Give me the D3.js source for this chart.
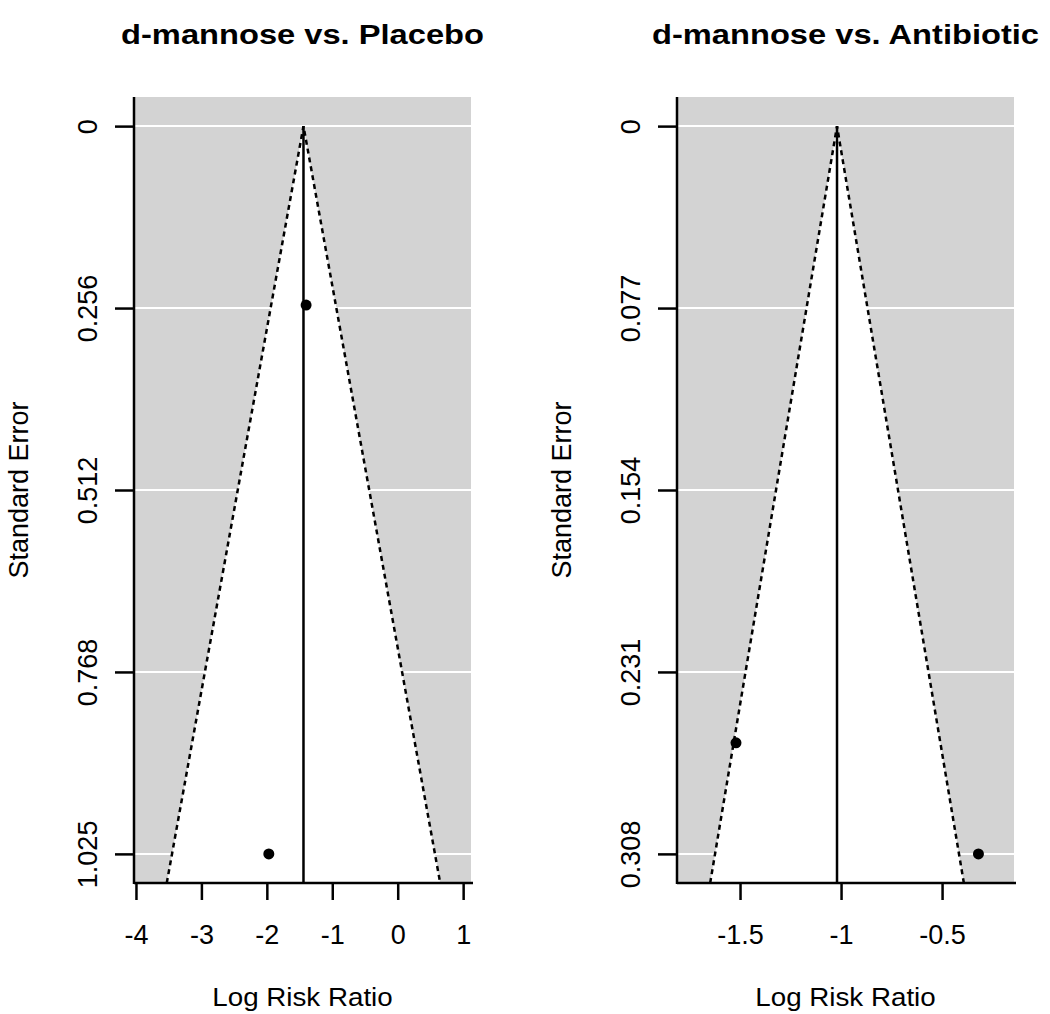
<!DOCTYPE html>
<html>
<head>
<meta charset="utf-8">
<script src="https://cdn.jsdelivr.net/npm/d3@7"></script>
<style>
  body { margin: 0; background: white; }
  text { font-family: "Liberation Sans", Arial, sans-serif; fill: black; }
</style>
</head>
<body>
<div id="plot"></div>
<script>
// funnel plot data
const titles = ["d-mannose vs. Placebo", "d-mannose vs. Antibiotic"];

// d-mannose vs. Placebo
const placebo_lrr = [-1.40, -1.97];
const placebo_se = [0.252, 1.025];
const placebo_pooled = -1.44;
const placebo_yticks = [0, 0.25625, 0.5125, 0.76875, 1.025];
const placebo_ylabels = ["0", "0.256", "0.512", "0.768", "1.025"];
const placebo_xticks = [-4, -3, -2, -1, 0, 1];
const placebo_xlim = [-4.03, 1.12];

// d-mannose vs. Antibiotic
const antibiotic_lrr = [-1.52, -0.32];
const antibiotic_se = [0.261, 0.308];
const antibiotic_pooled = -1.02;
const antibiotic_yticks = [0, 0.077, 0.154, 0.231, 0.308];
const antibiotic_ylabels = ["0", "0.077", "0.154", "0.231", "0.308"];
const antibiotic_xticks = [-1.5, -1, -0.5];
const antibiotic_xlim = [-1.812, -0.144];

const width = 1050;
const height = 1014;

const svg = d3.select("div#plot")
    .append("svg")
    .attr("width", width)
    .attr("height", height);

svg.append("rect").attr("width", width).attr("height", height).attr("fill", "white");

const panels = [
  {title: titles[0], lrr: placebo_lrr, se: placebo_se, pooled: placebo_pooled,
   yticks: placebo_yticks, ylabels: placebo_ylabels, xticks: placebo_xticks, xlim: placebo_xlim,
   left: 134, right: 471},
  {title: titles[1], lrr: antibiotic_lrr, se: antibiotic_se, pooled: antibiotic_pooled,
   yticks: antibiotic_yticks, ylabels: antibiotic_ylabels, xticks: antibiotic_xticks, xlim: antibiotic_xlim,
   left: 677, right: 1014}
];

const plot_top = 97, plot_bottom = 883;
const lw = 2.5;

panels.forEach(p => {
  const g = svg.append("g");

  // y domain like R: max se plus 4% padding on each side
  const semax = d3.max(p.yticks);
  const pad = semax * 0.04;
  const y = d3.scaleLinear().domain([-pad, semax + pad]).range([plot_top, plot_bottom]);
  const x = d3.scaleLinear().domain(p.xlim).range([p.left, p.right]);
  const ybot = semax + pad;

  // grey background
  g.append("rect")
    .attr("x", p.left).attr("y", plot_top)
    .attr("width", p.right - p.left).attr("height", plot_bottom - plot_top)
    .attr("fill", "#d3d3d3");

  // white funnel region
  const z = 1.96;
  const funnel = [[p.pooled - z * ybot, ybot], [p.pooled, 0], [p.pooled + z * ybot, ybot]];
  g.append("path")
    .attr("d", d3.line().x(d => x(d[0])).y(d => y(d[1]))(funnel) + "Z")
    .attr("fill", "white");

  // horizontal grid lines
  g.selectAll("line.grid")
    .data(p.yticks)
    .enter().append("line")
    .attr("class", "grid")
    .attr("x1", p.left).attr("x2", p.right)
    .attr("y1", d => y(d)).attr("y2", d => y(d))
    .attr("stroke", "white").attr("stroke-width", 2);

  // dotted funnel edges
  g.append("path")
    .attr("d", d3.line().x(d => x(d[0])).y(d => y(d[1]))(funnel))
    .attr("fill", "none")
    .attr("stroke", "black")
    .attr("stroke-width", lw)
    .attr("stroke-dasharray", "5,4");

  // pooled estimate line
  g.append("line")
    .attr("x1", x(p.pooled)).attr("x2", x(p.pooled))
    .attr("y1", y(0)).attr("y2", plot_bottom)
    .attr("stroke", "black").attr("stroke-width", lw);

  // studies
  g.selectAll("circle")
    .data(p.lrr.map((v, i) => [v, p.se[i]]))
    .enter().append("circle")
    .attr("cx", d => x(d[0]))
    .attr("cy", d => y(d[1]))
    .attr("r", 5.5)
    .attr("fill", "black");

  // axes (R style, long ticks)
  const xAxis = g.append("g")
    .attr("transform", `translate(0,${plot_bottom})`)
    .call(d3.axisBottom(x).tickValues(p.xticks).tickSize(17).tickSizeOuter(0));
  xAxis.select(".domain").attr("d", `M${p.left},0H${p.right + 2}`);
  xAxis.selectAll("path, line").attr("stroke", "black").attr("stroke-width", lw);
  xAxis.selectAll("text")
    .text(d => String(d))
    .attr("y", 61).attr("dy", null)
    .style("font-size", "27px")
    .style("font-family", "'Liberation Sans', Arial, sans-serif");

  const yAxis = g.append("g")
    .attr("transform", `translate(${p.left},0)`)
    .call(d3.axisLeft(y).tickValues(p.yticks).tickSize(19).tickSizeOuter(0)
      .tickFormat((d, i) => p.ylabels[i]));
  yAxis.select(".domain").attr("d", `M0,${plot_top}V${plot_bottom + 1}`);
  yAxis.selectAll("path, line").attr("stroke", "black").attr("stroke-width", lw);
  yAxis.selectAll("text")
    .attr("x", null).attr("dy", null)
    .attr("text-anchor", "middle")
    .attr("transform", "translate(-37,0) rotate(-90)")
    .style("font-size", "27px")
    .style("font-family", "'Liberation Sans', Arial, sans-serif");

  const cx = (p.left + p.right) / 2;

  // title
  g.append("text")
    .attr("transform", `translate(${cx},44) scale(1.21,1)`)
    .attr("text-anchor", "middle")
    .style("font-size", "27px")
    .style("font-weight", "bold")
    .text(p.title);

  // axis labels
  g.append("text")
    .attr("transform", `translate(${cx},1006) scale(1.11,1)`)
    .attr("text-anchor", "middle")
    .style("font-size", "25px")
    .text("Log Risk Ratio");

  g.append("text")
    .attr("transform", `translate(${p.left - 106},${(plot_top + plot_bottom) / 2}) rotate(-90)`)
    .attr("text-anchor", "middle")
    .style("font-size", "27px")
    .text("Standard Error");
});
</script>
</body>
</html>
